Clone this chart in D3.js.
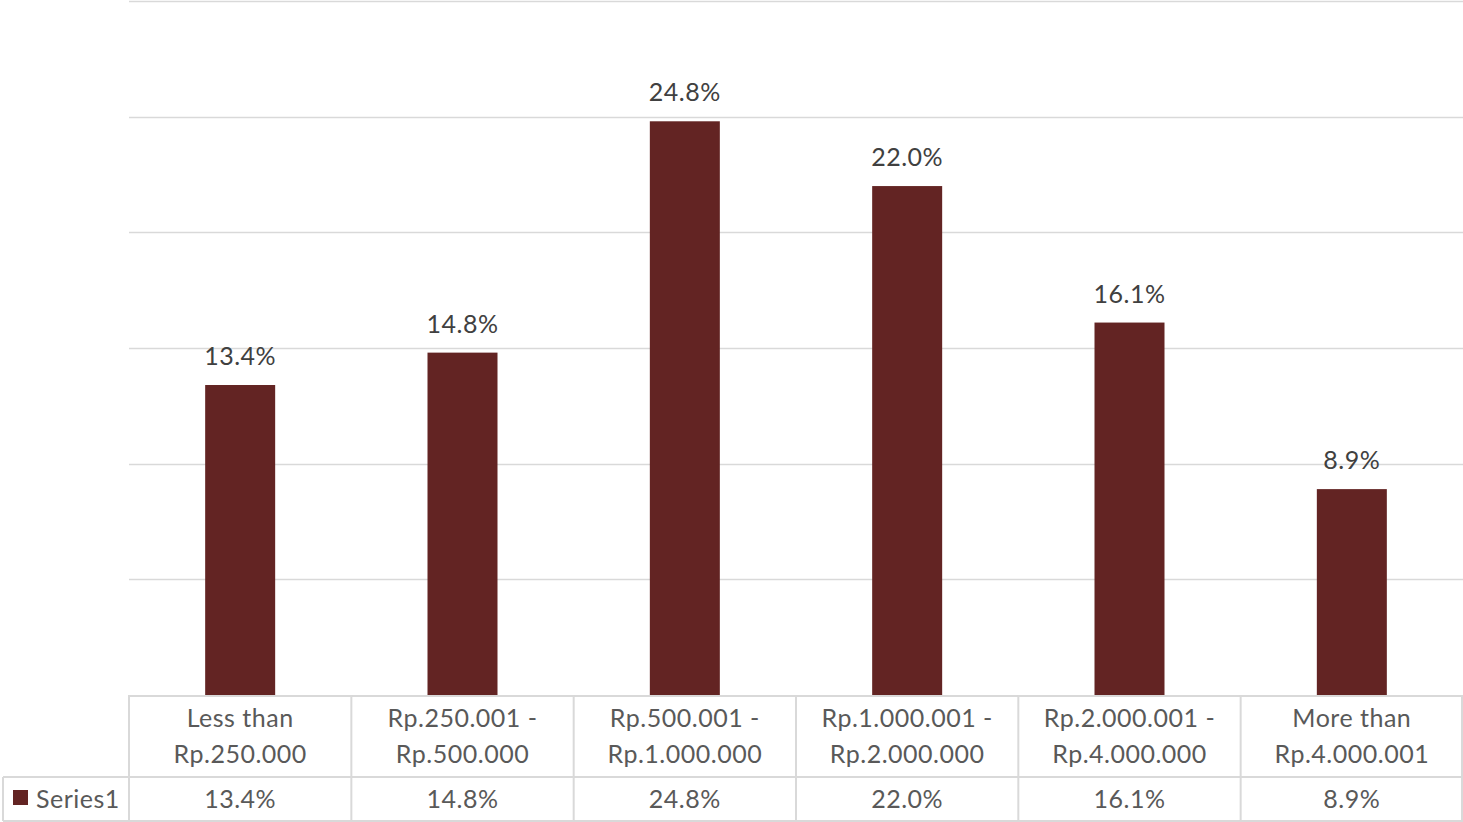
<!DOCTYPE html>
<html>
<head>
<meta charset="utf-8">
<script src="https://cdn.jsdelivr.net/npm/d3@7"></script>
<style>
  html, body { margin: 0; padding: 0; background: #ffffff; }
  svg { display: block; }
  text { font-family: Lato, "Open Sans", sans-serif; font-size: 25px; letter-spacing: 0.5px; }
</style>
</head>
<body>
<svg id="chart" width="1463" height="822"></svg>
<script>
// Income brackets and share of respondents (%)
const categories = [
  ["Less than", "Rp.250.000"],
  ["Rp.250.001 -", "Rp.500.000"],
  ["Rp.500.001 -", "Rp.1.000.000"],
  ["Rp.1.000.001 -", "Rp.2.000.000"],
  ["Rp.2.000.001 -", "Rp.4.000.000"],
  ["More than", "Rp.4.000.001"]
];
const values = [13.4, 14.8, 24.8, 22.0, 16.1, 8.9];
const seriesName = "Series1";
const gridTicks = [0, 5, 10, 15, 20, 25, 30];

const svg = d3.select("#chart");
const plotLeft = 129, plotRight = 1463, plotTop = 1, base = 695;
const tableMid = 777, tableBottom = 821, legendLeft = 3;
const barColor = "#632423";
const lineColor = "#d9d9d9";
const fmt = v => v.toFixed(1) + "%";

const x = d3.scaleBand().domain(d3.range(categories.length)).range([plotLeft, plotRight]).paddingInner(0).paddingOuter(0);
const y = d3.scaleLinear().domain([0, 30]).range([base, plotTop]);

// horizontal gridlines
svg.append("g").selectAll("line").data(gridTicks.filter(t => t > 0)).join("line")
  .attr("x1", plotLeft).attr("x2", plotRight)
  .attr("y1", d => Math.round(y(d)) + 0.5).attr("y2", d => Math.round(y(d)) + 0.5)
  .attr("stroke", lineColor).attr("stroke-width", 1.5);

// bars
const barW = 70;
svg.append("g").selectAll("rect").data(values).join("rect")
  .attr("x", (d, i) => x(i) + x.bandwidth() / 2 - barW / 2)
  .attr("width", barW)
  .attr("y", d => y(d))
  .attr("height", d => base - y(d))
  .attr("fill", barColor);

// value labels above bars
svg.append("g").selectAll("text").data(values).join("text")
  .attr("x", (d, i) => x(i) + x.bandwidth() / 2)
  .attr("y", d => y(d) - 20)
  .attr("text-anchor", "middle")
  .attr("fill", "#404040")
  .text(fmt);

// data table
const tbl = svg.append("g").attr("fill", "none").attr("stroke", lineColor).attr("stroke-width", 2);
tbl.append("line").attr("x1", plotLeft).attr("x2", plotRight).attr("y1", base + 1).attr("y2", base + 1);
tbl.append("line").attr("x1", legendLeft).attr("x2", plotRight).attr("y1", tableMid).attr("y2", tableMid);
tbl.append("line").attr("x1", legendLeft).attr("x2", plotRight).attr("y1", tableBottom).attr("y2", tableBottom);
tbl.append("line").attr("x1", legendLeft).attr("x2", legendLeft).attr("y1", tableMid).attr("y2", tableBottom);
tbl.selectAll("line.v").data(d3.range(categories.length + 1)).join("line").attr("class", "v")
  .attr("x1", i => i < categories.length ? x(i) : plotRight - 1)
  .attr("x2", i => i < categories.length ? x(i) : plotRight - 1)
  .attr("y1", base).attr("y2", tableBottom);

// category labels (two lines each)
const cat = svg.append("g").selectAll("text").data(categories).join("text")
  .attr("text-anchor", "middle")
  .attr("fill", "#595959");
cat.selectAll("tspan").data((d, i) => d.map(s => ({ s, i }))).join("tspan")
  .attr("x", d => x(d.i) + x.bandwidth() / 2)
  .attr("y", (d, j) => 727 + j * 36)
  .text(d => d.s);

// series row values
svg.append("g").selectAll("text").data(values).join("text")
  .attr("x", (d, i) => x(i) + x.bandwidth() / 2)
  .attr("y", 808)
  .attr("text-anchor", "middle")
  .attr("fill", "#595959")
  .text(fmt);

// legend key inside the table row
svg.append("rect").attr("x", 13).attr("y", 790).attr("width", 15).attr("height", 15).attr("fill", barColor);
svg.append("text").attr("x", 36).attr("y", 808).attr("fill", "#595959").text(seriesName);
</script>
</body>
</html>
